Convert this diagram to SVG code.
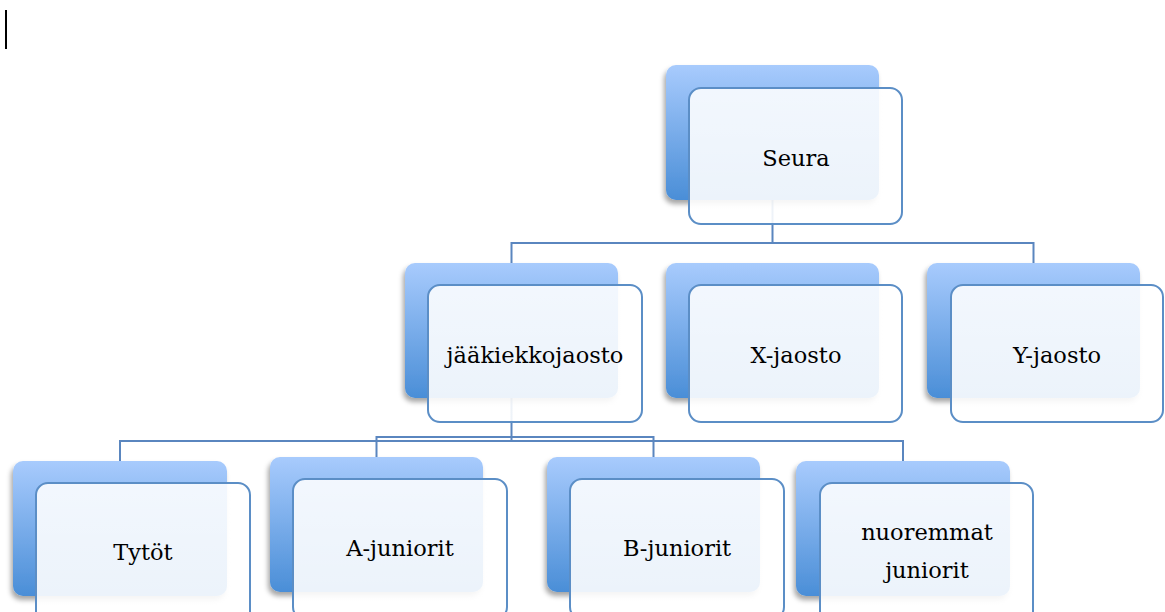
<svg xmlns="http://www.w3.org/2000/svg" width="1165" height="612" viewBox="0 0 1165 612">
<defs>
<linearGradient id="bg" x1="0" y1="0" x2="0" y2="1">
<stop offset="0" stop-color="#a8cbfd"/>
<stop offset="1" stop-color="#4a8ed7"/>
</linearGradient>
<linearGradient id="fg" x1="0" y1="0" x2="0" y2="1">
<stop offset="0" stop-color="#ffffff" stop-opacity="0.88"/>
<stop offset="1" stop-color="#ffffff" stop-opacity="0.9"/>
</linearGradient>
<filter id="sh" x="-10%" y="-10%" width="120%" height="125%">
<feDropShadow dx="-2" dy="4" stdDeviation="2.5" flood-color="#000" flood-opacity="0.35"/>
</filter>
</defs>
<style>
.back{fill:url(#bg);filter:url(#sh)}
.front{fill:url(#fg);stroke:#5b8ec6;stroke-width:2}
.lbl{font-family:"DejaVu Serif","Liberation Serif",serif;font-size:22.5px;fill:#000;text-anchor:middle}
.con{fill:none;stroke:#5a86bf;stroke-width:2}
</style>
<rect x="5" y="10" width="2" height="39" fill="#000"/>
<g id="connectors">
<path class="con" d="M772.5,200 V243 M511.5,263 V243 H1033.5 V263"/>
<path class="con" d="M511.5,397 V441 M120,461 V441 H903 V461"/>
<path class="con" d="M376.5,457 V437 H653.5 V457"/>
</g>
<g id="seura">
<rect class="back" x="666" y="65" width="213" height="135" rx="10"/>
<rect class="front" x="689" y="88" width="213" height="136" rx="12"/>
<text class="lbl" x="796" y="166">Seura</text>
</g>
<g id="jaakiekkojaosto">
<rect class="back" x="405" y="263" width="213" height="135" rx="10"/>
<rect class="front" x="428" y="285" width="214" height="137" rx="12"/>
<text class="lbl" x="535" y="363">jääkiekkojaosto</text>
</g>
<g id="x-jaosto">
<rect class="back" x="666" y="263" width="213" height="135" rx="10"/>
<rect class="front" x="689" y="285" width="213" height="137" rx="12"/>
<text class="lbl" x="796" y="363">X-jaosto</text>
</g>
<g id="y-jaosto">
<rect class="back" x="927" y="263" width="213" height="135" rx="10"/>
<rect class="front" x="951" y="285" width="212" height="137" rx="12"/>
<text class="lbl" x="1057" y="363">Y-jaosto</text>
</g>
<g id="tytot">
<rect class="back" x="13" y="461" width="214" height="135" rx="10"/>
<rect class="front" x="36" y="483" width="214" height="140" rx="12"/>
<text class="lbl" x="143" y="560">Tytöt</text>
</g>
<g id="a-juniorit">
<rect class="back" x="270" y="457" width="213" height="135" rx="10"/>
<rect class="front" x="293" y="479" width="214" height="140" rx="12"/>
<text class="lbl" x="400" y="556">A-juniorit</text>
</g>
<g id="b-juniorit">
<rect class="back" x="547" y="457" width="213" height="135" rx="10"/>
<rect class="front" x="570" y="479" width="214" height="140" rx="12"/>
<text class="lbl" x="677" y="556">B-juniorit</text>
</g>
<g id="nuoremmat-juniorit">
<rect class="back" x="796" y="461" width="214" height="135" rx="10"/>
<rect class="front" x="820" y="483" width="213" height="140" rx="12"/>
<text class="lbl" x="927" y="540">nuoremmat</text>
<text class="lbl" x="927" y="578">juniorit</text>
</g>
</svg>
